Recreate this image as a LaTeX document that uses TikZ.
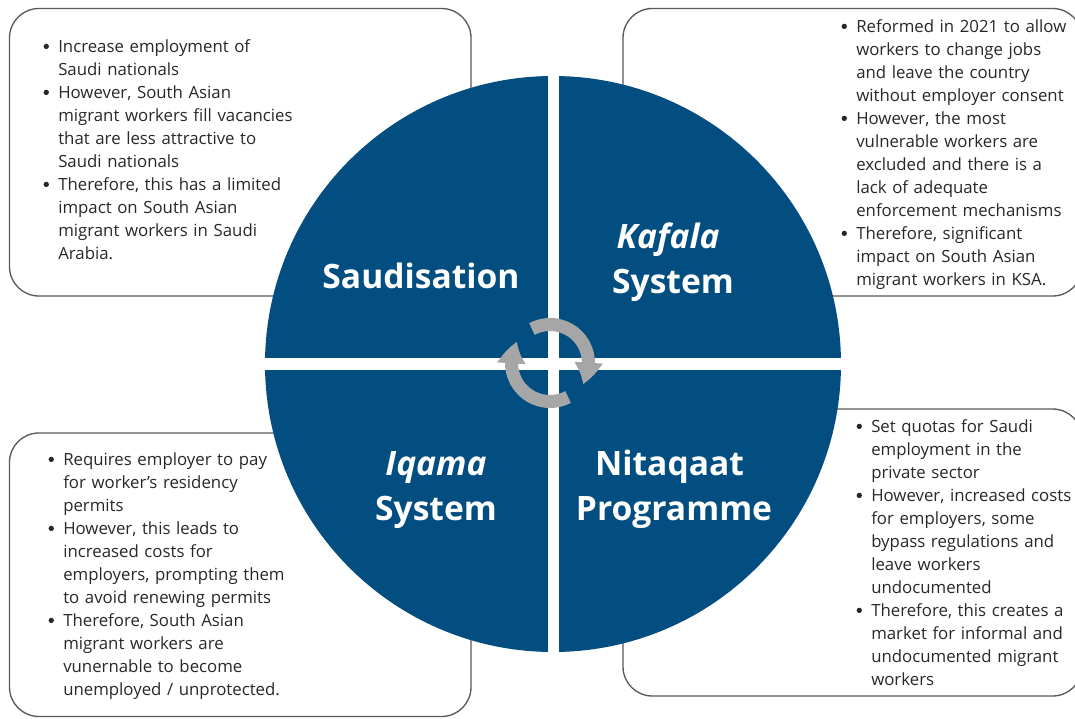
\documentclass[tikz,border=0pt]{standalone}
\usepackage{fontspec}
\setmainfont{Open Sans}
\usepackage{enumitem}
\usetikzlibrary{arrows.meta,bending}

\definecolor{quadblue}{HTML}{024E80}
\definecolor{bodytext}{RGB}{40,40,40}
\definecolor{boxline}{RGB}{90,90,90}
\definecolor{ringgrey}{RGB}{166,166,166}

% round bullet, a little heavier than the font's own
\newcommand{\dotlabel}{\tikz[baseline={(0,-4.4pt)}]\fill[bodytext] (0,0) circle[radius=2pt];}

\setlist[itemize]{label=\dotlabel, leftmargin=12pt, labelsep=7pt,
  topsep=0pt, partopsep=0pt, itemsep=0pt, parsep=0pt}

\tikzset{
  infobox/.style={draw=boxline, line width=1pt, fill=white, rounded corners=22pt},
  bullets/.style={anchor=north west, inner sep=0pt, text width=230pt, align=left,
    text=bodytext, font=\fontsize{12.6pt}{17.25pt}\selectfont},
  title/.style={anchor=base, inner sep=0pt, text=white,
    font=\fontsize{25.2pt}{33pt}\selectfont\bfseries},
  ringarrow/.style={draw=ringgrey, line width=9.75pt,
    -{Triangle[length=17pt, width=20pt, bend]}}
}

\begin{document}
\begin{tikzpicture}[x=0.75pt, y=-0.75pt]
  \clip (0,0) rectangle (1075,718);
  \fill[white] (0,0) rectangle (1075,718);

  % the four text panels
  \draw[infobox] (9.5,8.5) rectangle (471,296);
  \draw[infobox] (623,8.5) rectangle (1082,296);
  \draw[infobox] (9.5,433) rectangle (471,716.5);
  \draw[infobox] (623,409) rectangle (1082,696);

  % the quartered disc
  \coordinate (c) at (553,364);
  \fill[quadblue] (c) circle[radius=288];
  \fill[white] (255,358) rectangle (851,370);
  \fill[white] (547.5,70) rectangle (558.5,658);

  % circular arrows in the middle
  \coordinate (rc) at (550,363);
  \draw[ringarrow] ([shift={(-118:38.5)}]rc) arc[start angle=-118, end angle=33, radius=38.5];
  \draw[ringarrow] ([shift={(-298:38.5)}]rc) arc[start angle=-298, end angle=-147, radius=38.5];

  % quadrant titles
  \node[title] (sau) at (421,288) {Saudisation};
  \node[title] (kaf1) at (668,248) {\itshape Kafala};
  \node[title] (kaf2) at (673,293) {System};
  \node[title] (iqa1) at (436,475) {\itshape Iqama};
  \node[title] (iqa2) at (436,520) {System};
  \node[title] (nit1) at (669.5,475) {Nitaqaat};
  \node[title] (nit2) at (674,520) {Programme};

  % bullet texts
  \node[bullets] (tl) at (42,29) {\begin{itemize}
    \item Increase employment of\\Saudi nationals
    \item However, South Asian\\migrant workers fill vacancies\\that are less attractive to\\Saudi nationals
    \item Therefore, this has a limited\\impact on South Asian\\migrant workers in Saudi\\Arabia.
  \end{itemize}};

  \node[bullets] (tr) at (840,9) {\begin{itemize}
    \item Reformed in 2021 to allow\\workers to change jobs\\and leave the country\\without employer consent
    \item However, the most\\vulnerable workers are\\excluded and there is a\\lack of adequate\\enforcement mechanisms
    \item Therefore, significant\\impact on South Asian\\migrant workers in KSA.
  \end{itemize}};

  \node[bullets] (bl) at (47,442) {\begin{itemize}
    \item Requires employer to pay\\for worker’s residency\\permits
    \item However, this leads to\\increased costs for\\employers, prompting them\\to avoid renewing permits
    \item Therefore, South Asian\\migrant workers are\\vunernable to become\\unemployed / unprotected.
  \end{itemize}};

  \node[bullets] (br) at (855,409) {\begin{itemize}
    \item Set quotas for Saudi\\employment in the\\private sector
    \item However, increased costs\\for employers, some\\bypass regulations and\\leave workers\\undocumented
    \item Therefore, this creates a\\market for informal and\\undocumented migrant\\workers
  \end{itemize}};
\end{tikzpicture}
\end{document}
